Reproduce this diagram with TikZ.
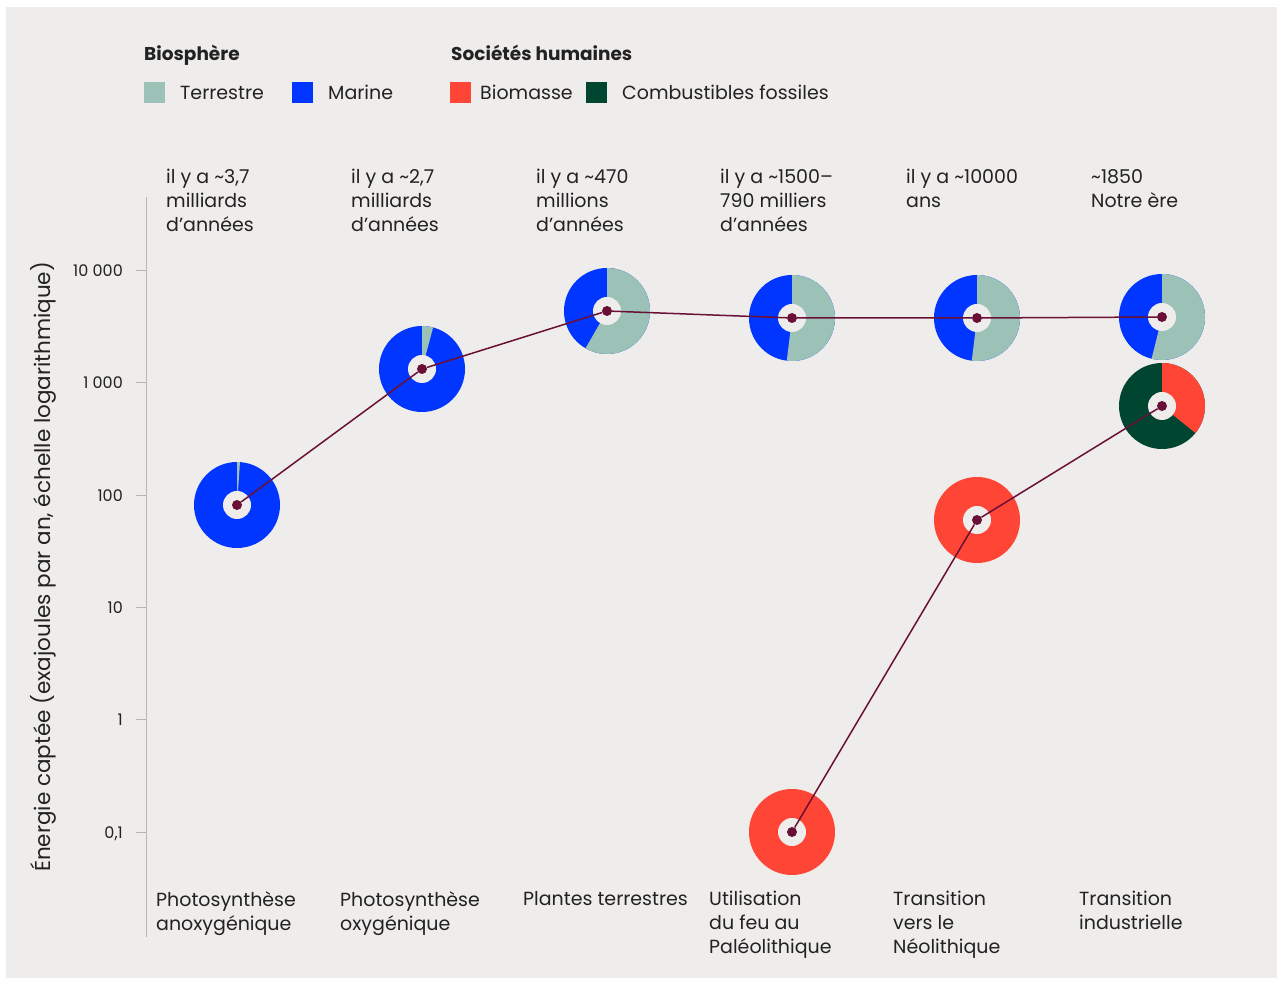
\documentclass[tikz,border=0pt]{standalone}
\usepackage{fontspec}
\setmainfont{Poppins}
\definecolor{fond}{HTML}{EFEDEB}
\definecolor{terre}{HTML}{9CC2B8}
\definecolor{marine}{HTML}{0036FF}
\definecolor{biom}{HTML}{FF4536}
\definecolor{fossile}{HTML}{00452F}
\definecolor{liaison}{HTML}{6A1036}
\definecolor{texte}{HTML}{222222}
\definecolor{axegris}{HTML}{B8B6B4}
\newcommand{\secteur}[4]{\fill[#4] (#1) -- ++(#2:43) arc[start angle=#2, end angle=#3, radius=43] -- cycle;}

\begin{document}
\begin{tikzpicture}[x=1pt, y=1pt,
  every node/.style={text=texte},
  lab/.style={anchor=north west, align=left, inner sep=0pt, font=\fontsize{19}{24}\selectfont, execute at begin node=\strut},
  legende/.style={anchor=base west, inner sep=0pt, font=\fontsize{19}{24}\selectfont},
  titre/.style={anchor=base west, inner sep=0pt, font=\fontsize{18.5}{24}\selectfont\bfseries},
  carre/.style={anchor=south west, minimum size=21pt, inner sep=0pt},
  point/.style={circle, fill=liaison, inner sep=0pt, minimum size=10pt},
  trou/.style={circle, fill=fond, inner sep=0pt, minimum size=28pt},
  cote/.style={anchor=base east, inner sep=0pt, font=\fontsize{16}{20}\selectfont},
  axe/.style={axegris, line width=1pt}]

\useasboundingbox (0,0) rectangle (1282,983);
\fill[fond] (6,5) rectangle (1277,976);

\node[titre] (tbio) at (144,922) {Biosphère};
\node[titre] (tsoc) at (451,922) {Sociétés humaines};
\node[carre, fill=terre] (cterre) at (144,880) {};
\node[legende] (lterre) at (180,883) {Terrestre};
\node[carre, fill=marine] (cmarine) at (292,880) {};
\node[legende] (lmarine) at (328,883) {Marine};
\node[carre, fill=biom] (cbiom) at (450,880) {};
\node[legende] (lbiom) at (480,883) {Biomasse};
\node[carre, fill=fossile] (cfoss) at (586,880) {};
\node[legende] (lfoss) at (622,883) {Combustibles fossiles};

\node[rotate=90, inner sep=0pt, font=\fontsize{21.5}{24}\selectfont] (ytitre) at (43,416) {Énergie captée (exajoules par an, échelle logarithmique)};
\draw[axe] (146,46) -- (146,786);
\foreach \v/\lab in {-1/{0,1},0/1,1/10,2/100,3/{1\ 000},4/{10\ 000}}{
  \draw[axe] (136,263+112.4*\v) -- (146,263+112.4*\v);
  \node[cote] (v\v) at (123,257+112.4*\v) {\lab};
}

\node[lab] (h1) at (166,814) {il y a \textasciitilde3,7\\milliards\\d’années};
\node[lab] (h2) at (351,814) {il y a \textasciitilde2,7\\milliards\\d’années};
\node[lab] (h3) at (536,814) {il y a \textasciitilde470\\millions\\d’années};
\node[lab] (h4) at (720,814) {il y a \textasciitilde1500–\\790 milliers\\d’années};
\node[lab] (h5) at (906,814) {il y a \textasciitilde10000\\ans};
\node[lab] (h6) at (1091,814) {\textasciitilde1850\\Notre ère};

\node[lab] (b1) at (156,92) {Photosynthèse\\anoxygénique};
\node[lab] (b2) at (340,92) {Photosynthèse\\oxygénique};
\node[lab] (b3) at (523,95) {Plantes terrestres};
\node[lab] (b4) at (709,92) {Utilisation\\du feu au\\Paléolithique};
\node[lab] (b5) at (893,92) {Transition\\vers le\\Néolithique};
\node[lab] (b6) at (1079,92) {Transition\\industrielle};

\coordinate (c1) at (237,478);
\coordinate (c2) at (422,614);
\coordinate (c3) at (607,672);
\coordinate (c4) at (792,665);
\coordinate (c5) at (977,665);
\coordinate (c6) at (1162,666);
\coordinate (r1) at (792,151);
\coordinate (r2) at (977,463);
\coordinate (r3) at (1162,577);

\fill[marine] (c1) circle[radius=43]; \secteur{c1}{86}{90}{terre}
\fill[marine] (c2) circle[radius=43]; \secteur{c2}{75}{90}{terre}
\fill[marine] (c3) circle[radius=43]; \secteur{c3}{-120}{90}{terre}
\fill[marine] (c4) circle[radius=43]; \secteur{c4}{-97}{90}{terre}
\fill[marine] (c5) circle[radius=43]; \secteur{c5}{-97}{90}{terre}
\fill[marine] (c6) circle[radius=43]; \secteur{c6}{-104}{90}{terre}
\fill[biom] (r1) circle[radius=43];
\fill[biom] (r2) circle[radius=43];
\fill[fossile] (r3) circle[radius=43]; \secteur{r3}{-39}{90}{biom}

\foreach \c in {c1,c2,c3,c4,c5,c6,r1,r2,r3}{
  \node[trou] (t\c) at (\c) {};
  \node[point] (p\c) at (\c) {};
}

\draw[liaison, line width=1.5pt] (pc1) -- (pc2) -- (pc3) -- (pc4) -- (pc5) -- (pc6);
\draw[liaison, line width=1.5pt] (pr1) -- (pr2) -- (pr3);

\end{tikzpicture}
\end{document}
